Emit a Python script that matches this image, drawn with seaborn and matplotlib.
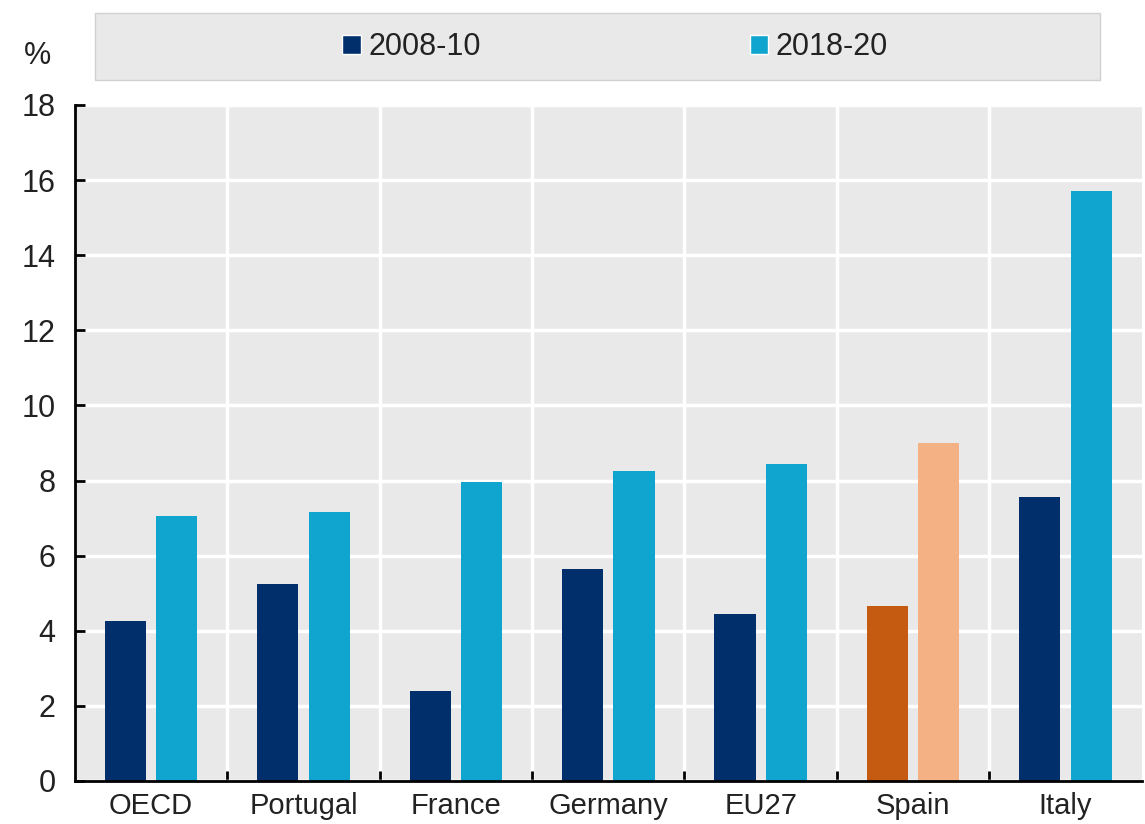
import matplotlib
matplotlib.use("Agg")
import matplotlib.pyplot as plt
import seaborn as sns
import pandas as pd
from matplotlib.patches import Rectangle, Patch
from matplotlib.ticker import MultipleLocator, FixedLocator

countries = ["OECD", "Portugal", "France", "Germany", "EU27", "Spain", "Italy"]
periods = ["2008-10", "2018-20"]
values_2008_10 = [4.25, 5.25, 2.4, 5.65, 4.45, 4.65, 7.55]
values_2018_20 = [7.05, 7.15, 7.95, 8.25, 8.45, 9.0, 15.7]

df = pd.DataFrame({
    "country": countries * 2,
    "period": [periods[0]] * len(countries) + [periods[1]] * len(countries),
    "value": values_2008_10 + values_2018_20,
})

DARK = "#002F6C"
LIGHT = "#0FA5CF"
SPAIN_DARK = "#C55A11"
SPAIN_LIGHT = "#F4B183"
BG = "#E9E9E9"

sns.set_theme(style="white")
plt.rcParams["font.family"] = ["Liberation Sans Narrow", "Liberation Sans", "DejaVu Sans"]

fig = plt.figure(figsize=(11.45, 8.24), dpi=100)
ax = fig.add_axes([0.0655, 0.0522, 0.9315, 0.8204])
ax.set_facecolor(BG)

sns.barplot(data=df, x="country", y="value", hue="period", order=countries,
            hue_order=periods, palette=[DARK, LIGHT], width=0.675, gap=0.2,
            saturation=1, ax=ax, legend=False, errorbar=None, linewidth=0)

spain_idx = countries.index("Spain")
for cont, col in zip(ax.containers, [SPAIN_DARK, SPAIN_LIGHT]):
    cont.patches[spain_idx].set_facecolor(col)

ax.set_xlim(-0.5, len(countries) - 0.5)
ax.set_ylim(0, 18)
ax.yaxis.set_major_locator(MultipleLocator(2))
ax.xaxis.set_minor_locator(FixedLocator([i + 0.5 for i in range(len(countries) - 1)]))
ax.set_axisbelow(True)
ax.grid(True, axis="y", which="major", color="white", linewidth=2.5)
ax.grid(True, axis="x", which="minor", color="white", linewidth=2.5)
ax.grid(False, axis="x", which="major")

for s in ["top", "right"]:
    ax.spines[s].set_visible(False)
for s in ["left", "bottom"]:
    ax.spines[s].set_color("black")
    ax.spines[s].set_linewidth(2)

ax.tick_params(axis="y", which="major", direction="in", length=7, width=2,
               color="black", labelsize=22, labelcolor="#222222", left=True, pad=14)
ax.tick_params(axis="x", which="major", length=0, labelsize=21,
               labelcolor="#222222", pad=8)
ax.tick_params(axis="x", which="minor", direction="in", length=7, width=2,
               color="black", bottom=True)
ax.set_xlabel("")
ax.set_ylabel("")

fig.text(0.033, 0.932, "%", fontsize=22, color="#222222", ha="center", va="center")

fig.patches.append(Rectangle((95 / 1145, 1 - 80 / 824), (1100 - 95) / 1145, 67 / 824,
                             transform=fig.transFigure, facecolor=BG,
                             edgecolor="#D0D0D0", linewidth=1, zorder=0))
handles = [Patch(facecolor=DARK, label=periods[0]), Patch(facecolor=LIGHT, label=periods[1])]
fig.legend(handles=handles, loc="center", bbox_to_anchor=(615 / 1145, 1 - 47 / 824),
           ncol=2, frameon=False, fontsize=22, handlelength=0.6, handleheight=0.6,
           handletextpad=0.25, columnspacing=8.8, labelcolor="#222222")

fig.savefig("out.png", dpi=100)
